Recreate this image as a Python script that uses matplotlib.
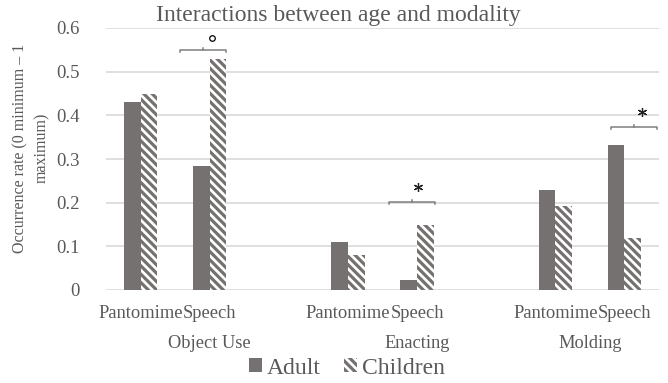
import matplotlib
matplotlib.use("Agg")
import matplotlib.pyplot as plt
import matplotlib.transforms as mtransforms
import numpy as np

# Data
contexts = ["Object Use", "Enacting", "Molding"]
modalities = ["Pantomime", "Speech"]
adult = [0.43, 0.285, 0.11, 0.023, 0.228, 0.332]
children = [0.448, 0.528, 0.08, 0.15, 0.193, 0.12]
y_ticks = [0, 0.1, 0.2, 0.3, 0.4, 0.5, 0.6]
y_tick_labels = ["0", "0.1", "0.2", "0.3", "0.4", "0.5", "0.6"]
sig_marks = ["°", "*", "*"]
sig_heights = [0.55, 0.202, 0.374]

plt.rcParams["font.family"] = ["Liberation Serif", "DejaVu Serif"]
plt.rcParams["hatch.linewidth"] = 2.3
plt.rcParams["hatch.color"] = "#767171"

W, H = 668, 383
DPI = 100
fig = plt.figure(figsize=(W / DPI, H / DPI), dpi=DPI)
left, right, top, bottom = 106, 659, 28, 290
ax = fig.add_axes([left / W, 1 - bottom / H, (right - left) / W, (bottom - top) / H])

text_gray = "#595959"
bar_gray = "#767171"
grid_gray = "#d9d9d9"

# Slots: two modalities per context, with an empty slot between contexts
slots = [0, 1, 3, 4, 6, 7]
x = np.array(slots, dtype=float)
bw = 0.24
ax.bar(x - bw / 2, adult, width=bw, color=bar_gray, linewidth=0, label="Adult", zorder=3)
ax.bar(x + bw / 2, children, width=bw, color="white", edgecolor=bar_gray, hatch="\\\\\\\\",
       linewidth=0, label="Children", zorder=3)

ax.set_xlim(-0.5, 7.5)
ax.set_ylim(0, 0.6)
ax.set_yticks(y_ticks)
ax.set_yticklabels(y_tick_labels)
for yt in y_ticks:
    ax.axhline(yt, color=grid_gray, linewidth=1.2, zorder=1)
for s in ax.spines.values():
    s.set_visible(False)
ax.tick_params(axis="y", length=0, pad=19, labelsize=13.5, labelcolor=text_gray)
ax.set_xticks(x)
ax.set_xticklabels(modalities * len(contexts))
ax.tick_params(axis="x", length=0, pad=11, labelsize=13.3, labelcolor=text_gray)

# Context labels under the modality labels
trans = mtransforms.blended_transform_factory(ax.transData, ax.transAxes)
group_centers = [1, 4, 6.5]
for gc, name in zip(group_centers, contexts):
    ax.text(gc, -53 / (bottom - top), name, transform=trans, ha="center", va="center",
            fontsize=13.2, color=text_gray)

# Significance brackets over the Speech pairs
bracket_offsets = [-0.1, -0.07, 0.14]
mark_offsets = [0.13, 0.09, 0.12]
half = 0.33
tick_h = 0.006
for i, (mark, yh) in enumerate(zip(sig_marks, sig_heights)):
    c = slots[2 * i + 1] + bracket_offsets[i]
    ax.plot([c - half, c - half, c + half, c + half], [yh - tick_h, yh, yh, yh - tick_h],
            color="#7f7f7f", linewidth=1.1, zorder=4, clip_on=False)
    ax.plot([c, c], [yh, yh + 0.005], color="#7f7f7f", linewidth=1.1, zorder=4, clip_on=False)
    mx = c + mark_offsets[i]
    if mark == "°":
        ax.plot(mx, yh + 0.028, marker="o", markersize=4, markerfacecolor="white",
                markeredgecolor="black", markeredgewidth=0.9, zorder=5, clip_on=False)
    else:
        ax.plot(mx, yh + 0.034, marker=(6, 2, 0), markersize=6.5, color="#222222",
                markeredgewidth=0.9, zorder=5, clip_on=False)

# Title
fig.text(338 / W, 1 - 16 / H, "Interactions between age and modality", ha="center", va="center",
         fontsize=17, color=text_gray)

# Y label
fig.text(31 / W, 1 - 148 / H, "Occurrence rate (0 minimum – 1\nmaximum)", rotation=90,
         ha="center", va="center", fontsize=11.5, color=text_gray, linespacing=1.5,
         multialignment="center")

# Legend
leg = fig.legend(loc="center", bbox_to_anchor=(347 / W, 1 - 368 / H), ncol=2, frameon=False,
                 fontsize=17, handlelength=0.55, handleheight=0.55, handletextpad=0.2,
                 columnspacing=1.0, labelcolor=text_gray)

fig.savefig("out.png", dpi=DPI)
